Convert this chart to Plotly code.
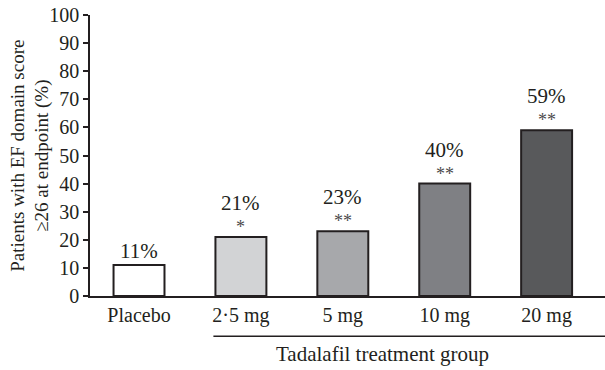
import plotly.graph_objects as go

# Dose groups and response rates (% patients with EF domain score >=26)
groups = ["Placebo", "2·5 mg", "5 mg", "10 mg", "20 mg"]
values = [11, 21, 23, 40, 59]
significance = ["", "*", "**", "**", "**"]
bar_colors = ["#ffffff", "#d2d3d5", "#a7a8ab", "#7f8084", "#58595b"]
y_ticks = list(range(0, 101, 10))

FONT = "'Liberation Serif', 'Times New Roman', Times, serif"
INK = "#231f20"

fig = go.Figure(
    go.Bar(
        x=list(range(len(groups))),
        y=values,
        width=0.5,
        marker=dict(color=bar_colors, line=dict(color=INK, width=2)),
        hoverinfo="skip",
    )
)

# Percentage labels and significance markers above each bar
annotations = []
for i, (v, s) in enumerate(zip(values, significance)):
    if s:
        annotations.append(dict(x=i, y=v, xref="x", yref="y", text=s, showarrow=False,
                                yanchor="middle", yshift=10,
                                font=dict(family=FONT, size=18, color="#4a4a4a")))
        annotations.append(dict(x=i, y=v, xref="x", yref="y", text=f"{v}%", showarrow=False,
                                yanchor="middle", yshift=34,
                                font=dict(family=FONT, size=21, color=INK)))
    else:
        annotations.append(dict(x=i, y=v, xref="x", yref="y", text=f"{v}%", showarrow=False,
                                yanchor="middle", yshift=14,
                                font=dict(family=FONT, size=21, color=INK)))

# Y-axis title (two lines, rotated)
annotations.append(dict(
    x=-0.116, y=0.5, xref="paper", yref="paper", xanchor="center", yanchor="middle",
    text="Patients with EF domain score<br>≥26 at endpoint (%)", textangle=-90,
    showarrow=False, font=dict(family=FONT, size=19, color=INK),
))

# Group bracket label for the active-treatment doses
annotations.append(dict(
    x=2.39, y=-0.207, xref="x", yref="paper", xanchor="center", yanchor="middle",
    text="Tadalafil treatment group", showarrow=False,
    font=dict(family=FONT, size=21, color=INK),
))

shapes = [dict(type="line", xref="x", yref="paper", x0=0.73, x1=4.6, y0=-0.143, y1=-0.143,
               line=dict(color=INK, width=1.5))]

fig.update_layout(
    width=605, height=370,
    margin=dict(l=90, r=0, t=15, b=74),
    paper_bgcolor="white", plot_bgcolor="white",
    showlegend=False,
    font=dict(family=FONT, size=20, color=INK),
    annotations=annotations,
    shapes=shapes,
    xaxis=dict(
        range=[-0.481, 4.573],
        tickmode="array", tickvals=list(range(len(groups))), ticktext=groups,
        showline=True, linecolor=INK, linewidth=1.5, ticks="",
        showgrid=False, zeroline=False, fixedrange=True,
        tickfont=dict(family=FONT, size=20, color=INK),
    ),
    yaxis=dict(
        range=[0, 100], tickmode="array", tickvals=y_ticks,
        showline=True, linecolor=INK, linewidth=1.5,
        ticks="outside", ticklen=5, tickwidth=1.5, tickcolor=INK,
        showgrid=False, zeroline=False, fixedrange=True,
        tickfont=dict(family=FONT, size=20, color=INK),
    ),
)

fig.write_html("out.html")
